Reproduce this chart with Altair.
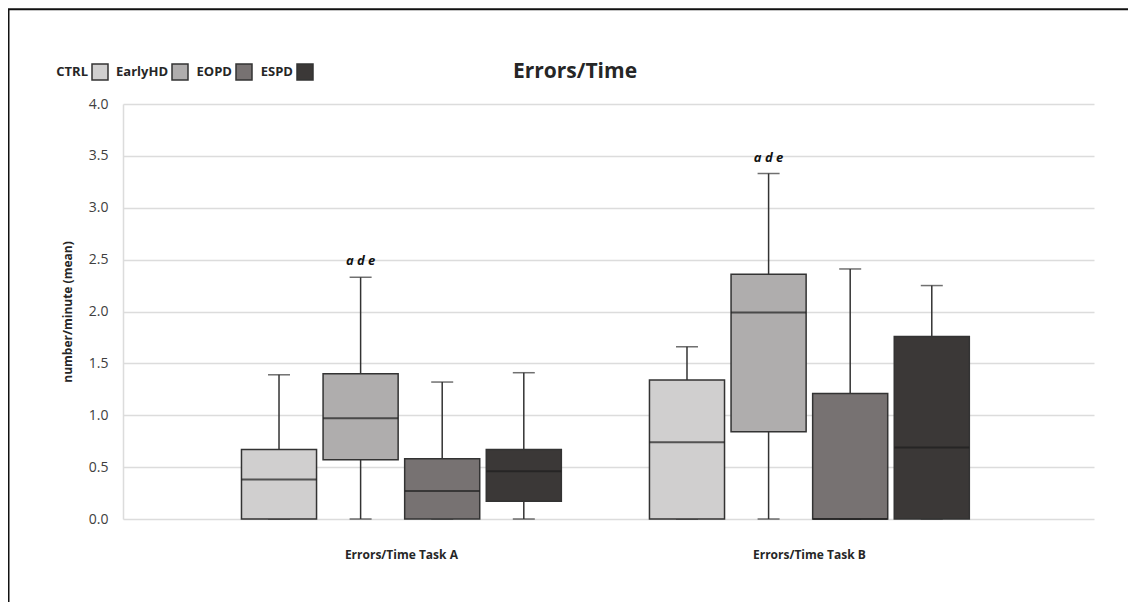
import altair as alt
import pandas as pd

# ---- data ----
groups = ["CTRL", "EarlyHD", "EOPD", "ESPD"]
tasks = ["Errors/Time Task A", "Errors/Time Task B"]
group_colors = ["#d0cfcf", "#afadad", "#777272", "#3b3837"]

min_a = [0.0, 0.0, 0.0, 0.0]
q1_a = [0.0, 0.57, 0.0, 0.17]
med_a = [0.38, 0.97, 0.27, 0.46]
q3_a = [0.67, 1.40, 0.58, 0.67]
max_a = [1.39, 2.33, 1.32, 1.41]

min_b = [0.0, 0.0, 0.0, 0.0]
q1_b = [0.0, 0.84, 0.0, 0.0]
med_b = [0.74, 1.99, 0.0, 0.69]
q3_b = [1.34, 2.36, 1.21, 1.76]
max_b = [1.66, 3.33, 2.41, 2.25]

annot_group = "EarlyHD"
annot_y = [2.49, 3.48]
annot_text = ["a d e", "a d e"]

chart_title = "Errors/Time"
y_title = "number/minute (mean)"
y_ticks = [0, 0.5, 1, 1.5, 2, 2.5, 3, 3.5, 4]

# ---- tables ----
rows = []
for task, mn, q1, md, q3, mx in [
    (tasks[0], min_a, q1_a, med_a, q3_a, max_a),
    (tasks[1], min_b, q1_b, med_b, q3_b, max_b),
]:
    for i, g in enumerate(groups):
        rows.append(dict(task=task, group=g, lo=mn[i], q1=q1[i], med=md[i], q3=q3[i], hi=mx[i]))
df = pd.DataFrame(rows)

ann = pd.DataFrame({"task": tasks, "group": [annot_group] * 2, "y": annot_y, "text": annot_text})

FONT = "Open Sans"
TXT = "#262626"
EDGE = "#333333"

x_enc = alt.X(
    "task:N",
    scale=alt.Scale(domain=tasks, paddingInner=0, paddingOuter=0.19, align=0.48),
    axis=alt.Axis(title=None, labelAngle=0, labelFontWeight="bold", labelFontSize=12,
                  labelPadding=30, domain=False, ticks=False, labelColor=TXT, labelFont=FONT),
)
xo_enc = alt.XOffset("group:N", scale=alt.Scale(domain=groups, paddingInner=0.08, paddingOuter=0.54))
y_scale = alt.Scale(domain=[0, 4], nice=False)
y_axis = alt.Axis(values=y_ticks, format=".1f", title=y_title, grid=True, gridColor="#dcdcdc",
                  gridWidth=1.5, domainColor="#dcdcdc", domainWidth=1.5, ticks=False,
                  labelPadding=15, labelFontSize=14, labelColor="#404040", labelFont=FONT,
                  titleFont=FONT, titleFontSize=12, titleFontWeight="bold", titleColor=TXT,
                  titlePadding=14)

base = alt.Chart(df)

upper = base.mark_rule(color=EDGE, strokeWidth=1.5).encode(
    x=x_enc, xOffset=xo_enc, y=alt.Y("q3:Q", scale=y_scale, axis=y_axis), y2="hi:Q")
lower = base.mark_rule(color=EDGE, strokeWidth=1.5).encode(
    x=x_enc, xOffset=xo_enc, y=alt.Y("lo:Q", scale=y_scale, axis=y_axis), y2="q1:Q")
cap_hi = base.mark_tick(color=EDGE, size=22, thickness=1.5).encode(
    x=x_enc, xOffset=xo_enc, y=alt.Y("hi:Q", scale=y_scale, axis=y_axis))
cap_lo = base.mark_tick(color=EDGE, size=22, thickness=1.5).encode(
    x=x_enc, xOffset=xo_enc, y=alt.Y("lo:Q", scale=y_scale, axis=y_axis))
box = base.mark_bar(stroke=EDGE, strokeWidth=1.5).encode(
    x=x_enc, xOffset=xo_enc, y=alt.Y("q1:Q", scale=y_scale, axis=y_axis), y2="q3:Q",
    fill=alt.Fill(
        "group:N",
        scale=alt.Scale(domain=groups, range=group_colors),
        legend=alt.Legend(
            orient="none", legendX=-32, legendY=-41, direction="horizontal", title=None,
            symbolType="square", symbolSize=256, symbolStrokeColor=EDGE, symbolStrokeWidth=1.5,
            symbolOpacity=1, labelAlign="right", labelOffset={"expr": "-21"}, columnPadding=5,
            labelFont=FONT, labelFontSize=13, labelFontWeight="bold", labelColor=TXT,
        ),
    ),
)
median = base.mark_tick(color="#1e1e1e", size=75, thickness=2).encode(
    x=x_enc, xOffset=xo_enc, y=alt.Y("med:Q", scale=y_scale, axis=y_axis))
notes = alt.Chart(ann).mark_text(font=FONT, fontSize=13, fontWeight="bold", fontStyle="italic",
                                 color="#111111", baseline="middle").encode(
    x=x_enc, xOffset=xo_enc, y=alt.Y("y:Q", scale=y_scale, axis=y_axis), text="text:N")

title_mark = alt.Chart(pd.DataFrame({"t": [chart_title]})).mark_text(
    font=FONT, fontSize=21, fontWeight="bold", color=TXT, baseline="middle", align="center").encode(
    x=alt.value(452), y=alt.value(-32), text="t:N")

frame = alt.Chart(pd.DataFrame({"k": [0]})).mark_rect(
    fill="white", fillOpacity=0, stroke="#111111", strokeWidth=2).encode(
    x=alt.value(-114.5), x2=alt.value(3000), y=alt.value(-94.7), y2=alt.value(3000))

chart = alt.layer(frame, upper, lower, cap_hi, cap_lo, box, median, notes, title_mark).properties(
    width=971, height=415,
    autosize=alt.AutoSizeParams(type="none"),
    padding={"left": 115, "top": 96, "right": 34, "bottom": 83},
    background="white",
).configure_view(stroke=None)

chart.save("out.html", embed_options={"renderer": "svg", "actions": False})
